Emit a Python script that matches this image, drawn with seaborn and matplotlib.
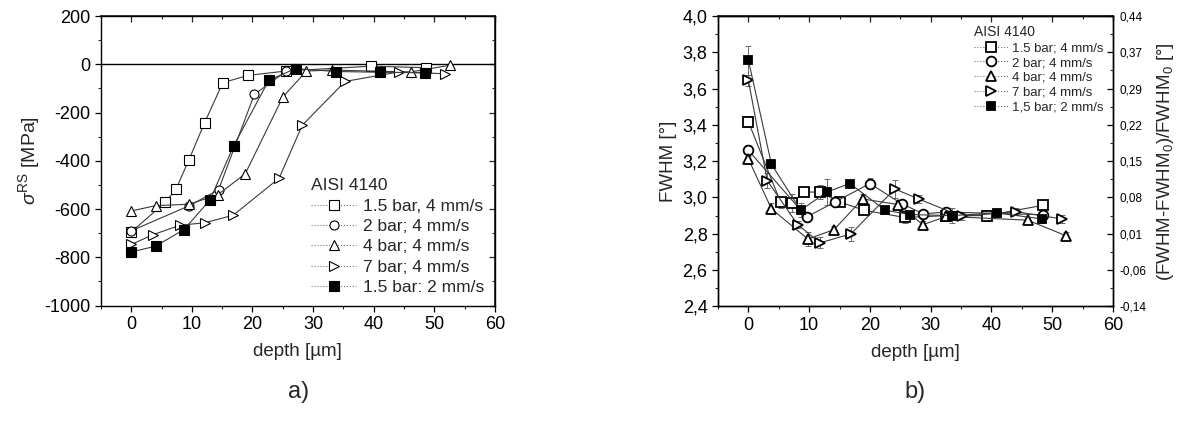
import numpy as np
import pandas as pd
import matplotlib
matplotlib.use("Agg")
import matplotlib.pyplot as plt
from matplotlib.ticker import MultipleLocator, FixedLocator, FixedFormatter
import seaborn as sns

# ---------------- data: panel a) residual stress ----------------
a_labels = ["1.5 bar, 4 mm/s", "2 bar; 4 mm/s", "4 bar; 4 mm/s", "7 bar; 4 mm/s", "1.5 bar: 2 mm/s"]

a1_x = [0, 5.6, 7.4, 9.5, 12.1, 15.1, 19.3, 25.5, 39.5, 48.7]
a1_y = [-695, -572, -517, -396, -242, -76, -46, -28, -8, -14]

a2_x = [0, 9.6, 14.4, 20.3, 25.6]
a2_y = [-690, -586, -520, -125, -28]

a3_x = [0, 4.0, 9.6, 14.3, 18.8, 25.0, 28.9, 33.1, 46.1, 52.6]
a3_y = [-608, -586, -580, -540, -454, -136, -28, -24, -32, -4]

a4_x = [0, 3.6, 8.1, 12.1, 16.8, 24.4, 28.2, 35.3, 44.1, 51.7]
a4_y = [-747, -706, -667, -657, -626, -472, -253, -71, -32, -39]

a5_x = [0, 4.0, 8.7, 13.0, 16.9, 22.7, 27.1, 33.8, 41.1, 48.5]
a5_y = [-778, -754, -685, -562, -337, -66, -18, -30, -33, -35]

# ---------------- data: panel b) FWHM ----------------
b_labels = ["1.5 bar; 4 mm/s", "2 bar; 4 mm/s", "4 bar; 4 mm/s", "7 bar; 4 mm/s", "1,5 bar; 2 mm/s"]

b1_x = [0, 5.3, 7.2, 9.2, 11.8, 15.0, 19.0, 25.7, 32.6, 39.2, 48.5]
b1_y = [3.417, 2.974, 2.97, 3.03, 3.03, 2.976, 2.93, 2.89, 2.90, 2.90, 2.957]
b1_e = [0.03, 0.03, 0.05, 0.02, 0.04, 0.02, 0.02, 0.03, 0.02, 0.03, 0.02]

b2_x = [0, 9.6, 14.3, 20.0, 25.2, 28.8, 32.6, 48.5]
b2_y = [3.26, 2.893, 2.976, 3.077, 2.966, 2.91, 2.92, 2.905]
b2_e = [0.03, 0.02, 0.02, 0.03, 0.02, 0.02, 0.02, 0.02]

b3_x = [0, 3.8, 9.8, 14.1, 18.8, 24.7, 28.7, 32.6, 46.0, 52.2]
b3_y = [3.213, 2.937, 2.771, 2.823, 2.992, 2.961, 2.85, 2.896, 2.875, 2.79]
b3_e = [0.03, 0.03, 0.04, 0.02, 0.03, 0.02, 0.02, 0.02, 0.02, 0.02]

b4_x = [0, 3.1, 8.1, 11.8, 16.9, 24.1, 28.0, 35.1, 44.0, 51.6]
b4_y = [3.645, 3.093, 2.851, 2.75, 2.80, 3.047, 2.992, 2.896, 2.922, 2.882]
b4_e = [0.03, 0.04, 0.02, 0.03, 0.04, 0.05, 0.02, 0.02, 0.02, 0.02]

b5_x = [0, 3.8, 8.6, 12.9, 16.7, 22.5, 26.6, 33.5, 40.9, 48.3]
b5_y = [3.757, 3.183, 2.93, 3.03, 3.077, 2.93, 2.906, 2.90, 2.915, 2.882]
b5_e = [0.08, 0.02, 0.04, 0.07, 0.02, 0.02, 0.02, 0.04, 0.02, 0.02]

b_left_ticks = [2.4, 2.6, 2.8, 3.0, 3.2, 3.4, 3.6, 3.8, 4.0]
b_left_labels = ["2,4", "2,6", "2,8", "3,0", "3,2", "3,4", "3,6", "3,8", "4,0"]
b_right_labels = ["-0,14", "-0,06", "0,01", "0,08", "0,15", "0,22", "0,29", "0,37", "0,44"]

# ---------------- style ----------------
sns.set_theme(style="ticks")
plt.rcParams["font.family"] = ["Liberation Sans", "DejaVu Sans"]
plt.rcParams["mathtext.fontset"] = "custom"
plt.rcParams["mathtext.rm"] = "Liberation Sans"
plt.rcParams["mathtext.it"] = "Liberation Sans:italic"
plt.rcParams["axes.unicode_minus"] = False

TICK_FS = 13
LABEL_FS = 13.5

markers = ["s", "o", "^", ">", "s"]
fills = ["white", "white", "white", "white", "black"]
line_col = "#3a3a3a"

fig = plt.figure(figsize=(11.79, 4.22), dpi=100)
axA = fig.add_axes([0.0857, 0.276, 0.334, 0.686])
axB = fig.add_axes([0.609, 0.274, 0.335, 0.688])

def style_axes(ax):
    for s in ax.spines.values():
        s.set_linewidth(1.0)
        s.set_color("black")
    ax.tick_params(axis="both", which="major", direction="out", length=4, width=0.9,
                   labelsize=TICK_FS, colors="black", top=False, right=False)
    ax.tick_params(axis="both", which="minor", direction="out", length=2.5, width=0.8,
                   top=False, right=False)

def mirror(ax, xmaj, xmin, ymaj=None, ymin=None):
    sx = ax.secondary_xaxis("top")
    sx.xaxis.set_major_locator(MultipleLocator(xmaj))
    sx.xaxis.set_minor_locator(MultipleLocator(xmin))
    sx.tick_params(which="major", direction="in", length=4, width=0.9, labeltop=False)
    sx.tick_params(which="minor", direction="in", length=2.5, width=0.8)
    if ymaj is not None:
        sy = ax.secondary_yaxis("right")
        sy.yaxis.set_major_locator(MultipleLocator(ymaj))
        sy.yaxis.set_minor_locator(MultipleLocator(ymin))
        sy.tick_params(which="major", direction="in", length=4, width=0.9, labelright=False)
        sy.tick_params(which="minor", direction="in", length=2.5, width=0.8)

# ---------------- panel a ----------------
a_data = [(a1_x, a1_y), (a2_x, a2_y), (a3_x, a3_y), (a4_x, a4_y), (a5_x, a5_y)]
axA.axhline(0, color="black", lw=1.0, zorder=1)
for (xs, ys), lab, m, fc in zip(a_data, a_labels, markers, fills):
    df = pd.DataFrame({"depth": xs, "stress": ys})
    sns.lineplot(data=df, x="depth", y="stress", ax=axA, color=line_col, lw=0.8,
                 marker=m, markersize=6.5 if m != ">" else 7, markerfacecolor=fc,
                 markeredgecolor="black", markeredgewidth=0.8, label=lab,
                 sort=False, estimator=None, zorder=3)
axA.set_xlim(-5, 60)
axA.set_ylim(-1000, 200)
axA.xaxis.set_major_locator(MultipleLocator(10))
axA.xaxis.set_minor_locator(MultipleLocator(5))
axA.yaxis.set_major_locator(MultipleLocator(200))
axA.yaxis.set_minor_locator(MultipleLocator(100))
style_axes(axA)
axA.set_xlabel("depth [µm]", fontsize=LABEL_FS, labelpad=7)
axA.set_ylabel(r"$\sigma^{\rm RS}$ [MPa]", fontsize=LABEL_FS + 0.5, labelpad=2)
mirror(axA, 10, 5, 200, 100)

legA = axA.legend(loc="lower right", bbox_to_anchor=(1.0, 0.0), title="AISI 4140",
                  fontsize=12.5, title_fontsize=12.5, frameon=False, handlelength=2.6,
                  handletextpad=0.4, labelspacing=0.3, borderaxespad=0.2)
legA._legend_box.align = "left"
for h in legA.legend_handles:
    h.set_linestyle(":")
    h.set_color("#777777")

# ---------------- panel b ----------------
b_data = [(b1_x, b1_y, b1_e), (b2_x, b2_y, b2_e), (b3_x, b3_y, b3_e),
          (b4_x, b4_y, b4_e), (b5_x, b5_y, b5_e)]
for (xs, ys, es), lab, m, fc in zip(b_data, b_labels, markers, fills):
    df = pd.DataFrame({"depth": xs, "fwhm": ys})
    axB.errorbar(xs, ys, yerr=es, fmt="none", ecolor="#555555", elinewidth=0.6,
                 capsize=2, capthick=0.6, zorder=2)
    sns.lineplot(data=df, x="depth", y="fwhm", ax=axB, color=line_col, lw=0.8,
                 marker=m, markersize=(7 if fc == "white" else 5.5) if m != ">" else 7.5,
                 markerfacecolor=fc, markeredgecolor="black",
                 markeredgewidth=1.3, label=lab, sort=False, estimator=None, zorder=3)
axB.set_xlim(-5, 60)
axB.set_ylim(2.4, 4.0)
axB.xaxis.set_major_locator(MultipleLocator(10))
axB.xaxis.set_minor_locator(MultipleLocator(5))
axB.yaxis.set_major_locator(FixedLocator(b_left_ticks))
axB.yaxis.set_major_formatter(FixedFormatter(b_left_labels))
axB.yaxis.set_minor_locator(MultipleLocator(0.1))
style_axes(axB)
axB.set_xlabel("depth [µm]", fontsize=LABEL_FS, labelpad=7)
axB.set_ylabel("FWHM [°]", fontsize=LABEL_FS, labelpad=4)
mirror(axB, 10, 5)

axR = axB.twinx()
axR.set_ylim(2.4, 4.0)
axR.yaxis.set_major_locator(FixedLocator(b_left_ticks))
axR.yaxis.set_major_formatter(FixedFormatter(b_right_labels))
axR.yaxis.set_minor_locator(MultipleLocator(0.1))
axR.tick_params(axis="y", which="major", direction="in", length=4, width=0.9,
                labelsize=8.5, colors="black", pad=5)
axR.tick_params(axis="y", which="minor", direction="in", length=2.5, width=0.8)
axR.set_ylabel("(FWHM-FWHM$_0$)/FWHM$_0$ [°]", fontsize=LABEL_FS, labelpad=6)
for s in axR.spines.values():
    s.set_linewidth(1.0)
    s.set_color("black")

legB = axB.legend(loc="upper right", bbox_to_anchor=(1.0, 1.0), title="AISI 4140",
                  fontsize=9.5, title_fontsize=10, frameon=False, handlelength=2.6,
                  handletextpad=0.3, labelspacing=0.2, borderaxespad=0.3)
legB._legend_box.align = "left"
for h in legB.legend_handles:
    h.set_linestyle(":")
    h.set_color("#777777")

# panel labels
fig.text(0.253, 0.07, "a)", fontsize=17, ha="center", va="center")
fig.text(0.776, 0.07, "b)", fontsize=17, ha="center", va="center")

fig.savefig("out.png", dpi=100, facecolor="white")
